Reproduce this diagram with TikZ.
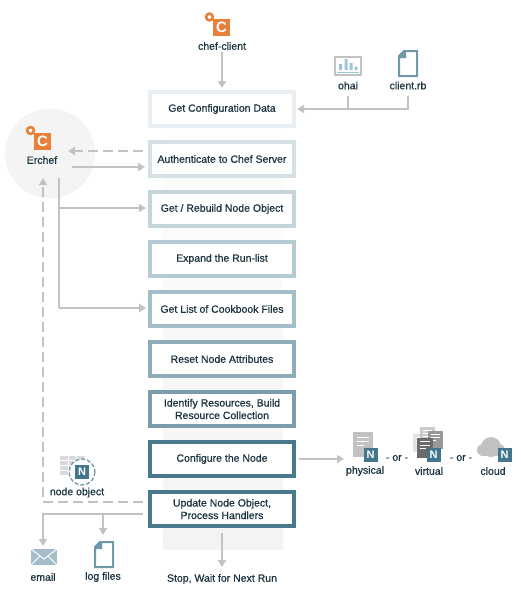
\documentclass[tikz,border=0pt]{standalone}
\usepackage{fontspec}
\setmainfont{Liberation Sans}
\newfontfamily\labelfont[FakeBold=0.7]{Liberation Sans}
\usetikzlibrary{arrows.meta}
\definecolor{flowgray}{HTML}{C2C2C2}
\definecolor{bandgray}{HTML}{F3F3F3}
\definecolor{circgray}{HTML}{F4F4F4}
\definecolor{inkteal}{HTML}{1A3440}
\definecolor{chefor}{HTML}{E8803A}
\definecolor{nodeteal}{HTML}{41768C}
\definecolor{docteal}{HTML}{6F98A8}
\definecolor{barblue}{HTML}{9CC6D2}
\definecolor{stepa}{HTML}{E9EFF2}
\definecolor{stepb}{HTML}{D6E1E6}
\definecolor{stepc}{HTML}{C3D4DB}
\definecolor{stepd}{HTML}{B5CAD3}
\definecolor{stepe}{HTML}{A3BDC9}
\definecolor{stepf}{HTML}{8FADB9}
\definecolor{stepg}{HTML}{7A9CAB}
\definecolor{steph}{HTML}{47788C}
\newcommand{\steptext}{\labelfont\fontsize{10.5}{12.5}\selectfont}
\tikzset{
	stepbox/.style={draw=#1, line width=4pt, fill=white, minimum width=144pt, minimum height=34pt, inner sep=0pt, align=center, font=\steptext, text=inkteal},
	lbl/.style={inner sep=0pt, align=center, font=\steptext, text=inkteal},
	flow/.style={draw=flowgray, line width=2pt, -{Triangle[width=8pt,length=7pt]}},
	flowline/.style={draw=flowgray, line width=2pt},
	flowdash/.style={flow, dash pattern=on 10pt off 5pt},
	chefmark/.pic={
		\draw[chefor, line width=2.6pt, fill=white] (-12,-10.5) circle (3.4);
		\fill[chefor] (-8.5,-8.5) rectangle (8.5,8.5);
		\node[text=white, inner sep=0pt, font=\fontsize{15}{15}\selectfont\bfseries] (cletter) at (0,0) {C};
	},
	nmark/.pic={
		\fill[nodeteal] (-7,-7) rectangle (7,7);
		\node[text=white, inner sep=0pt, font=\fontsize{11}{11}\selectfont\bfseries] (nletter) at (0,0) {N};
	},
	docmark/.pic={
		\draw[docteal, line width=2pt, fill=white] (-9,-6.5)--(-3,-12.5)--(9,-12.5)--(9,12.5)--(-9,12.5)--cycle;
		\fill[docteal] (-10,-5.5)--(-10,-8)--(-4.5,-13.5)--(-2,-13.5)--(-2,-5.5)--cycle;
	},
	servermark/.pic={
		\fill[#1] (-10,-12.5) rectangle (10,12.5);
		\draw[white, line width=1pt] (-6,-7)--(6,-7) (-6,-3)--(6,-3) (-6,1)--(1,1);
	},
}
\begin{document}
\begin{tikzpicture}[x=1pt, y=-1pt]
		\useasboundingbox (0,0) rectangle (520,600);
		
		\shade[top color=white, bottom color=bandgray] (163,72) rectangle (283,549);
		\fill[circgray] (50,153.5) circle (45);
		
		\node[stepbox=stepa] (getconfig) at (222,109) {Get Configuration Data};
		\node[stepbox=stepb] (authserver) at (222,159) {Authenticate to Chef Server};
		\node[stepbox=stepc] (rebuild) at (222,209) {Get / Rebuild Node Object};
		\node[stepbox=stepd] (expand) at (222,259) {Expand the Run-list};
		\node[stepbox=stepe] (cookbook) at (222,309) {Get List of Cookbook Files};
		\node[stepbox=stepf] (reset) at (222,359) {Reset Node Attributes};
		\node[stepbox=stepg] (identify) at (222,409) {Identify Resources, Build\\Resource Collection};
		\node[stepbox=steph] (configure) at (222,459) {Configure the Node};
		\node[stepbox=steph] (update) at (222,509) {Update Node Object,\\Process Handlers};
		
		% icons
		\pic at (221.5,27.5) {chefmark};
		\pic at (42.5,141) {chefmark};
		\node[lbl] (chefclient) at (222,46) {chef-client};
		\node[lbl] (erchef) at (42,160) {Erchef};
		
		\draw[flowgray, line width=2pt] (335,57) rectangle (361,74.5);
		\fill[barblue] (339,64) rectangle (342,70) (344.5,59) rectangle (347.5,70) (349.5,63) rectangle (352.5,70) (354.5,66.5) rectangle (357.5,70);
		\draw[barblue, line width=1pt] (337,72)--(359,72);
		\pic at (408,63.5) {docmark};
		\node[lbl] (ohai) at (348,85.5) {ohai};
		\node[lbl] (clientrb) at (408,85.5) {client.rb};
		
		\pic at (363,444.5) {servermark=flowgray};
		\pic at (370.5,455) {nmark};
		\node[lbl] (physical) at (365,471) {physical};
		\node[lbl] (ora) at (397,458) {- or -};
		\pic[scale=.75] at (420,443) {servermark=flowgray!45};
		\pic[scale=.75] at (427,436) {servermark=flowgray!85};
		\pic[scale=.75] at (435.5,440) {servermark=black!40};
		\pic[scale=.8] at (425,447.5) {servermark=black!58};
		\pic at (433.5,455) {nmark};
		\node[lbl] (virtual) at (429,471) {virtual};
		\node[lbl] (orb) at (461,458) {- or -};
		\fill[flowgray] (483,450) circle (6);
		\fill[flowgray] (491,447) circle (10);
		\fill[flowgray] (499,450) circle (6);
		\fill[flowgray] (483,450) rectangle (503,456);
		\pic at (504.5,455) {nmark};
		\node[lbl] (cloud) at (493,471) {cloud};
		
		\fill[flowgray!60] (60,456) rectangle (85,475);
		\draw[white, line width=0.7pt] (60,460.5)--(85,460.5) (60,465)--(85,465) (60,470)--(85,470) (68,456)--(68,475) (76,456)--(76,475);
		\draw[white, fill=white] (82,472) circle (13);
		\draw[docteal, line width=1.3pt, dash pattern=on 4pt off 2pt] (82,472) circle (13);
		\pic at (82,472) {nmark};
		\node[lbl] (nodeobject) at (77,492.5) {node object};
		
		\fill[stepe] (31,549) rectangle (57,565);
		\draw[white, line width=1pt] (31,549)--(44,559)--(57,549) (31,565)--(40,556) (57,565)--(48,556);
		\node[lbl] (email) at (43,577) {email};
		\pic at (104,554.5) {docmark};
		\node[lbl] (logfiles) at (103,577) {log files};
		\node[lbl] (stopwait) at (222,579) {Stop, Wait for Next Run};
		
		% connectors
		\coordinate (clientdrop) at (408,96);
		\coordinate (ohaidrop) at (348,96);
		\coordinate (datacorner) at (408,109);
		\coordinate (datajoin) at (348,109);
		\coordinate (erdashend) at (68,151);
		\coordinate (erout) at (72,167);
		\coordinate (erdown) at (59,178);
		\coordinate (erbranchA) at (59,208);
		\coordinate (erbranchB) at (59,308);
		\coordinate (objup) at (43,178);
		\coordinate (objcorner) at (43,502);
		\coordinate (mailcorner) at (43,514);
		\coordinate (mailend) at (43,546);
		\coordinate (logjoin) at (103,514);
		\coordinate (logend) at (103,535);
		\coordinate (stopstart) at (222,533);
		\coordinate (stopend) at (222,567);
		\coordinate (nodesend) at (344,459);
		
		\draw[flow, shorten >=2pt] (chefclient.south) ++(0,2) -- (getconfig.north);
		\draw[flow, shorten >=1pt] (clientdrop) -- (datacorner) -- (getconfig.east);
		\draw[flowline] (ohaidrop) -- (datajoin);
		\draw[flowdash] ([xshift=-5pt]authserver.west |- erdashend) -- (erdashend);
		\draw[flow, shorten >=3pt] (erout) -- (authserver.west |- erout);
		\draw[flowline] (erdown) -- (erbranchB);
		\draw[flow, shorten >=2pt] (erbranchA) -- (rebuild.west |- erbranchA);
		\draw[flow, shorten >=2pt] (erbranchB) -- (cookbook.west |- erbranchB);
		\draw[flowdash] ([xshift=-5pt]update.west |- objcorner) -- (objcorner) -- (objup);
		\draw[flow] ([xshift=-5pt]update.west |- mailcorner) -- (mailcorner) -- (mailend);
		\draw[flow] (logjoin) -- (logend);
		\draw[flow] (stopstart) -- (stopend);
		\draw[flow] ([xshift=3pt]configure.east) -- (nodesend);
	\end{tikzpicture}
\end{document}
